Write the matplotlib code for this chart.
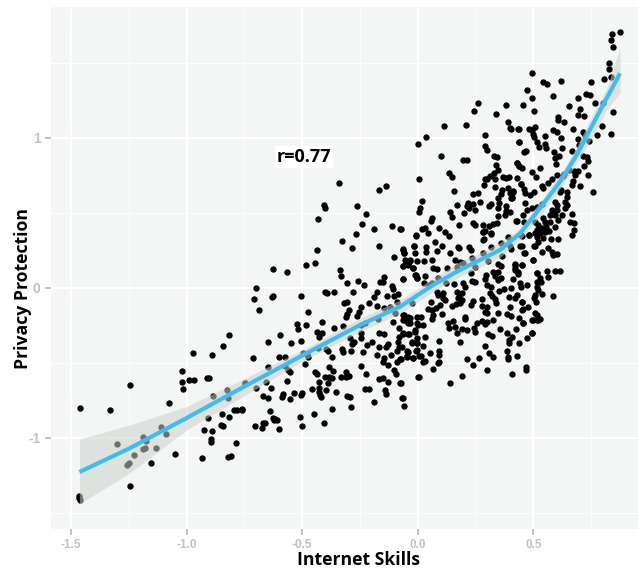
import numpy as np
import matplotlib
matplotlib.use("Agg")
import matplotlib.pyplot as plt

# grouped by part of the plot
skills_low = [-1.460,-1.331,-1.244,-1.244,-1.465,-1.463,-1.460,-1.299,-1.256,-1.250,-1.227,-1.190,-1.181,-1.187,-1.175,-1.155,-1.132,-1.109,-1.087,-1.048,
	-1.074,-1.019,-1.018,-1.014,-0.991,-0.967,-0.970,-0.891,-0.913,-0.904,-0.844,-0.816,-0.884,-0.823,-0.819,-0.747,-0.908,-0.848,-0.816,-0.795,
	-0.783,-0.761,-0.926,-0.890,-0.852,-0.841,-0.895,-0.895,-0.784,-0.931,-0.822,-0.806,-0.702,-0.671,-0.659,-0.674,-0.620,-0.610,-0.600,-0.501,-0.404]
protect_low = [-0.800,-0.813,-0.644,-1.318,-1.390,-1.400,-1.413,-1.042,-1.180,-1.166,-1.113,-1.075,-1.069,-0.991,-1.020,-1.169,-1.064,-0.927,-0.975,-1.109,
	-0.764,-0.553,-0.627,-0.676,-0.611,-0.615,-0.433,-0.444,-0.602,-0.600,-0.384,-0.311,-0.718,-0.682,-0.733,-0.636,-0.867,-0.840,-0.862,-0.816,
	-0.811,-0.811,-0.944,-0.956,-0.916,-0.920,-1.009,-1.024,-1.036,-1.133,-1.127,-1.120,-0.920,-0.900,-0.900,-0.933,-0.880,-0.882,-0.940,-0.920,-0.902]

skills_mid = [-0.342,-0.169,-0.138,-0.405,-0.400,-0.261,-0.222,-0.432,-0.240,-0.188,-0.112,-0.077,-0.267,-0.326,-0.285,-0.168,-0.437,-0.008,-0.017,-0.066,
	-0.061,-0.104,-0.054,-0.034,-0.066,-0.042,-0.019,-0.625,-0.564,-0.482,-0.444,-0.335,-0.331,-0.308,-0.259,-0.234,-0.146,-0.163,-0.152,-0.066,
	-0.011,-0.002,-0.110,-0.106,-0.700,-0.707,-0.630,-0.626,-0.685,-0.506,-0.403,-0.394,-0.362,-0.280,-0.175,-0.189,-0.135,-0.103,-0.084,-0.212,
	-0.308,-0.319,-0.247,-0.253,-0.261,-0.299,-0.305,-0.310,-0.175,-0.146,-0.120,-0.089,-0.025,-0.099,-0.473,-0.416,-0.524,-0.519,-0.482,-0.362,
	-0.325,-0.596,-0.434,-0.416,-0.429,-0.648,-0.550,-0.506,-0.228,-0.247,-0.247,-0.293,-0.276,-0.286,-0.247,-0.171,-0.109,-0.063,-0.041,-0.066,
	-0.048,-0.034,-0.083,-0.005,-0.012,-0.168,-0.146,-0.063,-0.080,-0.084,-0.037,-0.199,-0.221,-0.127,-0.139,-0.166,-0.080,-0.089,-0.025,-0.005,
	-0.574,-0.600,-0.714,-0.646,-0.495,-0.480,-0.473,-0.430,-0.397,-0.387,-0.371,-0.329,-0.322,-0.289,-0.238,-0.175,-0.146,-0.152,-0.117,-0.077,
	-0.091,-0.041,-0.048,-0.022,-0.005,0.007,-0.486,-0.560,-0.553,-0.444,-0.436,-0.385,-0.368,-0.403,-0.382,-0.371,-0.387,-0.429,-0.564,-0.333,
	-0.312,-0.310,-0.296,-0.247,-0.224,-0.129,-0.101,-0.094,-0.168,-0.152,-0.127,-0.077,0.001,-0.749,-0.700,-0.655,-0.633,-0.671,-0.649,-0.581,
	-0.587,-0.534,-0.551,-0.499,-0.503,-0.457,-0.429,-0.429,-0.423,-0.419,-0.395,-0.355,-0.306,-0.293,-0.228,-0.210,-0.143,-0.139,-0.191,-0.067,
	-0.060,-0.290,-0.370,-0.449,-0.508,-0.639,-0.627,-0.617,-0.761,-0.574]
protect_mid = [0.700,0.653,0.678,0.553,0.531,0.549,0.496,0.458,0.429,0.391,0.411,0.393,0.360,0.316,0.264,0.280,0.253,0.349,0.280,0.258,
	0.236,0.209,0.187,0.187,0.149,0.153,0.131,0.129,0.107,0.151,0.164,0.118,0.080,0.036,0.049,0.022,0.073,0.040,0.038,0.060,
	0.087,0.065,0.016,-0.009,0.002,-0.073,-0.060,-0.056,-0.147,-0.053,-0.029,-0.033,-0.027,-0.024,-0.029,-0.060,-0.051,-0.051,-0.040,-0.102,
	-0.091,-0.100,-0.129,-0.160,-0.184,-0.147,-0.173,-0.196,-0.118,-0.131,-0.124,-0.091,-0.098,-0.169,-0.160,-0.226,-0.240,-0.273,-0.247,-0.269,
	-0.251,-0.311,-0.296,-0.302,-0.324,-0.360,-0.367,-0.351,-0.235,-0.247,-0.302,-0.331,-0.358,-0.376,-0.331,-0.209,-0.229,-0.180,-0.191,-0.213,
	-0.218,-0.236,-0.269,-0.236,-0.280,-0.298,-0.304,-0.307,-0.324,-0.358,-0.307,-0.358,-0.380,-0.376,-0.396,-0.393,-0.396,-0.420,-0.360,-0.365,
	-0.460,-0.462,-0.469,-0.527,-0.435,-0.442,-0.462,-0.398,-0.409,-0.420,-0.458,-0.404,-0.424,-0.418,-0.424,-0.444,-0.467,-0.491,-0.444,-0.476,
	-0.494,-0.424,-0.458,-0.467,-0.413,-0.453,-0.507,-0.547,-0.562,-0.562,-0.576,-0.529,-0.556,-0.591,-0.591,-0.602,-0.631,-0.624,-0.618,-0.591,
	-0.558,-0.596,-0.589,-0.522,-0.576,-0.513,-0.547,-0.576,-0.604,-0.602,-0.627,-0.636,-0.593,-0.636,-0.664,-0.627,-0.667,-0.718,-0.731,-0.709,
	-0.724,-0.698,-0.738,-0.698,-0.716,-0.671,-0.669,-0.696,-0.713,-0.729,-0.680,-0.691,-0.720,-0.729,-0.675,-0.671,-0.680,-0.707,-0.762,-0.735,
	-0.784,-0.791,-0.806,-0.840,-0.860,-0.820,-0.864,-0.873,-0.809,-0.520]

skills_up = [0.262,0.241,0.381,0.337,0.389,0.399,0.435,0.112,0.210,0.035,-0.001,0.292,0.436,0.292,0.298,0.100,0.331,0.341,0.197,0.214,
	0.338,0.348,0.427,0.439,0.136,0.146,0.004,0.312,0.329,0.334,0.290,0.301,0.286,0.370,0.381,0.393,0.427,0.445,0.155,0.335,
	0.363,0.361,0.390,0.413,0.399,0.407,0.401,0.237,0.259,0.267,0.017,0.345,0.351,0.345,0.381,0.381,0.378,0.400,0.009,0.007,
	0.168,0.218,0.211,0.223,0.237,0.246,0.315,0.308,0.139,0.148,0.198,0.348,0.427,0.063,0.058,0.178,0.237,0.249,0.280,0.309,
	0.326,0.344,0.280,0.290,0.316,0.092,0.116,0.133,0.020,0.031,0.044,-0.006,-0.074,0.285]
protect_up = [1.233,1.180,1.222,1.158,1.104,1.064,1.062,1.080,1.089,1.004,0.960,1.020,0.971,0.947,0.920,0.882,0.878,0.876,0.851,0.856,
	0.818,0.787,0.833,0.813,0.767,0.738,0.729,0.747,0.764,0.729,0.724,0.727,0.689,0.742,0.736,0.738,0.733,0.693,0.649,0.671,
	0.653,0.627,0.664,0.642,0.631,0.604,0.598,0.624,0.636,0.571,0.582,0.600,0.564,0.531,0.549,0.513,0.489,0.504,0.531,0.504,
	0.551,0.569,0.547,0.531,0.558,0.518,0.560,0.547,0.504,0.471,0.498,0.478,0.447,0.464,0.444,0.418,0.436,0.420,0.418,0.413,
	0.424,0.436,0.376,0.380,0.364,0.400,0.376,0.349,0.396,0.402,0.367,0.351,0.393,0.327]

skills_centre = [0.076,0.106,-0.016,0.035,0.034,0.084,-0.063,-0.060,-0.011,0.139,0.175,0.180,0.221,0.228,0.283,0.315,0.283,0.061,0.027,-0.051,
	-0.034,-0.065,-0.042,-0.005,-0.019,0.067,0.082,0.128,0.161,0.182,0.168,0.197,0.233,0.283,0.315,0.358,0.391,0.348,0.360,0.246,
	0.303,0.362,0.399,0.442,0.463,0.448,0.482,0.507,0.517,0.420,0.452,0.420,0.435,0.499,0.514,-0.065,-0.008,-0.002,0.031,0.027,
	0.050,0.060,0.089,0.122,0.158,0.194,0.204,0.233,0.247,0.228,0.295,0.290,0.298,0.315,0.326,0.348,0.332,0.348,0.360,0.413,
	0.442,0.446,0.474,0.514,0.352,0.373,0.403,0.394,0.427,0.420,0.312,0.319,0.332,0.338,0.276,0.237,0.228,0.276,0.301,0.290,
	0.301,0.082,0.110,0.089,0.107,0.118,0.168,0.190,0.180,0.190,0.175,0.056,0.096,0.079,0.045,0.060,0.146,0.165,0.182,0.103,
	0.067,0.063,0.345,0.384,0.399,0.401,0.437,0.449,0.475,0.450,0.453,0.492,0.514,0.528,0.132,0.151,0.135,0.161,0.190,0.171,
	0.211,0.204,0.204,0.254,0.276,0.301,0.324,0.243,0.247,0.290,0.355,0.384,0.305,0.319,0.425,0.492,0.406,0.394,0.396,0.439,
	0.471,0.184,0.092,0.290,0.309,0.326,0.387,0.391,0.391,0.427,0.263,0.211,0.239,0.298,0.468,0.468,0.409,0.191,0.139,0.004,
	0.067,0.086,0.093,0.093,0.093,0.053,0.031,0.021,0.012,-0.022,-0.045,-0.074,-0.008,-0.048,-0.027,-0.005,-0.002,0.031,0.024,-0.041,
	-0.065,-0.012,0.002,0.021,0.012,-0.002,-0.034,-0.041,-0.055,-0.060,-0.070,-0.074,-0.065]
protect_centre = [0.309,0.282,0.280,0.271,0.240,0.249,0.253,0.236,0.236,0.233,0.271,0.264,0.276,0.253,0.320,0.360,0.373,0.187,0.178,0.182,
	0.182,0.147,0.158,0.178,0.131,0.131,0.129,0.136,0.187,0.176,0.138,0.169,0.198,0.236,0.271,0.298,0.342,0.160,0.147,0.142,
	0.182,0.213,0.282,0.282,0.236,0.353,0.353,0.282,0.342,0.160,0.156,0.131,0.109,0.187,0.098,0.058,0.087,0.064,0.080,0.036,
	0.020,0.031,0.064,0.036,0.027,0.031,0.009,0.049,0.042,0.098,0.087,0.058,0.020,0.009,0.109,0.109,0.080,0.053,0.069,0.058,
	0.036,0.009,0.018,0.009,-0.020,-0.008,-0.002,-0.058,-0.046,-0.069,-0.035,-0.051,-0.075,-0.098,-0.075,-0.084,-0.113,-0.120,-0.129,-0.158,
	-0.169,-0.024,-0.035,-0.047,-0.069,-0.080,-0.024,-0.035,-0.058,-0.080,-0.069,-0.091,-0.113,-0.135,-0.142,-0.147,-0.120,-0.107,-0.098,-0.173,
	-0.180,-0.209,-0.169,-0.173,-0.124,-0.186,-0.202,-0.093,-0.124,-0.147,-0.235,-0.213,-0.213,-0.209,-0.235,-0.218,-0.269,-0.258,-0.273,-0.302,
	-0.280,-0.191,-0.209,-0.231,-0.218,-0.224,-0.213,-0.269,-0.291,-0.242,-0.275,-0.298,-0.307,-0.318,-0.275,-0.302,-0.329,-0.347,-0.369,-0.369,
	-0.336,-0.362,-0.353,-0.384,-0.435,-0.458,-0.420,-0.458,-0.475,-0.453,-0.467,-0.471,-0.511,-0.549,-0.524,-0.547,-0.573,-0.584,-0.631,-0.591,
	-0.542,-0.498,-0.491,-0.447,-0.418,-0.431,-0.484,-0.491,-0.453,-0.467,-0.453,-0.475,-0.418,-0.418,-0.364,-0.336,-0.369,-0.329,-0.387,-0.307,
	-0.302,-0.291,-0.246,-0.246,-0.195,-0.195,-0.202,-0.235,-0.213,-0.180,-0.391,-0.635,-0.731]

skills_high = [0.874,0.838,0.835,0.842,0.825,0.828,0.837,0.806,0.747,0.494,0.540,0.559,0.619,0.474,0.583,0.495,0.727,0.744,0.694,0.766,
	0.799,0.455,0.654,0.502,0.701,0.844,0.693,0.718,0.608,0.608,0.633,0.795,0.670,0.583,0.600,0.505,0.479,0.494,0.497,0.502,
	0.436,0.403,0.551,0.619,0.437,0.514,0.525,0.550,0.553,0.622,0.665,0.589,0.459,0.468,0.612,0.593,0.596,0.716,0.723,0.694,
	0.742,0.773,0.835,0.697,0.713,0.730,0.737,0.718,0.427,0.439,0.449,0.528,0.492,0.511,0.737,0.694,0.680,0.603,0.634,0.655,
	0.675,0.579,0.564,0.672,0.665,0.703,0.535,0.543,0.448,0.459,0.463,0.485,0.502,0.756,0.618,0.644,0.646,0.636,0.644,0.636,
	0.413,0.406,0.593,0.600,0.579,0.603,0.571,0.593,0.622,0.608,0.667,0.658,0.675,0.675,0.667,0.465,0.471,0.492,0.514,0.535,
	0.456,0.459,0.425,0.543,0.550,0.572,0.521,0.535,0.554,0.514,0.569,0.593,0.482,0.507,0.528,0.550,0.543,0.521,0.502,0.574,
	0.608,0.449,0.459,0.564,0.579,0.586,0.600,0.537,0.499,0.420,0.449,0.420,0.435,0.514,0.557,0.593,0.615,0.564,0.528,0.403,
	0.626,0.615,0.507,0.452,0.586,0.536,0.521,0.531,0.514,0.507,0.504,0.510,0.452,0.456,0.507,0.514,0.497,0.518,0.456,0.494]
protect_high = [1.709,1.696,1.651,1.609,1.502,1.460,1.409,1.391,1.371,1.436,1.373,1.360,1.378,1.322,1.280,1.267,1.293,1.284,1.264,1.233,
	1.231,1.218,1.213,1.182,1.191,1.171,1.153,1.149,1.138,1.120,1.109,1.080,1.062,1.053,1.038,1.076,1.058,1.053,1.027,1.004,
	1.062,1.062,1.016,0.998,0.971,0.971,0.942,0.960,0.931,0.936,0.911,0.907,0.904,0.916,0.880,0.864,0.827,1.042,1.020,0.991,
	0.982,1.020,1.029,0.951,0.882,0.871,0.849,0.816,0.836,0.816,0.798,0.802,0.771,0.742,0.753,0.780,0.753,0.756,0.760,0.787,
	0.782,0.724,0.698,0.713,0.686,0.682,0.680,0.669,0.693,0.660,0.631,0.620,0.640,0.642,0.653,0.638,0.609,0.576,0.553,0.531,
	0.649,0.598,0.576,0.553,0.520,0.520,0.487,0.487,0.487,0.453,0.496,0.438,0.431,0.387,0.353,0.564,0.520,0.536,0.542,0.558,
	0.487,0.442,0.447,0.464,0.442,0.442,0.420,0.398,0.409,0.387,0.382,0.404,0.353,0.364,0.364,0.376,0.331,0.309,0.280,0.325,
	0.327,0.282,0.236,0.264,0.242,0.220,0.224,0.238,0.189,0.153,0.153,0.120,0.091,0.098,0.113,0.116,0.116,0.076,0.064,0.258,
	0.749,0.642,0.442,0.347,-0.053,-0.040,-0.013,0.042,0.042,-0.047,-0.069,-0.095,-0.095,-0.140,-0.164,-0.180,-0.213,-0.213,-0.235,-0.302]

# smoother and its band
smooth_x = [-1.463,-1.245,-1.000,-0.769,-0.496,-0.250,-0.077,0.066,0.182,0.269,0.355,0.442,0.528,0.615,0.687,0.759,0.816,0.874]
smooth_y = [-1.227,-1.068,-0.867,-0.673,-0.447,-0.247,-0.125,0.020,0.120,0.187,0.253,0.364,0.531,0.709,0.887,1.098,1.264,1.431]
band_lo = [-1.440,-1.233,-0.947,-0.735,-0.485,-0.292,-0.170,-0.025,0.076,0.138,0.204,0.320,0.476,0.664,0.831,1.020,1.187,1.300]
band_hi = [-1.007,-0.913,-0.790,-0.618,-0.410,-0.202,-0.080,0.065,0.176,0.236,0.302,0.398,0.576,0.754,0.942,1.165,1.330,1.600]

x_ticks = [-1.5, -1.0, -0.5, 0.0, 0.5]
y_ticks = [-1, 0, 1]
x_labels = ["-1.5", "-1.0", "-0.5", "0.0", "0.5"]
y_labels = ["-1", "0", "1"]
tick_grey = "#BDC5BF"

fig = plt.figure(figsize=(6.38, 5.69), dpi=100)
ax = fig.add_axes([51 / 638, (569 - 528.7) / 569, 587 / 638, 521.7 / 569])
ax.set_facecolor("#F4F6F6")
for s in ax.spines.values():
	s.set_visible(False)

ax.set_xlim(-1.5858, 0.9518)
ax.set_ylim(-1.6047, 1.8733)

# white grid, minor lines half way between the majors
ax.set_xticks(x_ticks)
ax.set_xticklabels(x_labels, fontsize=8.5, color=tick_grey, fontweight="bold", family="Liberation Sans")
ax.set_yticks(y_ticks)
ax.set_yticklabels(y_labels, fontsize=10, color=tick_grey, fontweight="bold", family="Liberation Sans")
ax.set_xticks([-1.25, -0.75, -0.25, 0.25, 0.75], minor=True)
ax.set_yticks([-1.5, -0.5, 0.5, 1.5], minor=True)
ax.tick_params(which="major", length=4.5, width=1.4, color=tick_grey, pad=3)
ax.tick_params(which="minor", length=0)
ax.grid(True, which="major", color="white", linewidth=1.5)
ax.grid(True, which="minor", color="white", linewidth=0.6)
ax.set_axisbelow(True)

xs = skills_low + skills_mid + skills_up + skills_centre + skills_high
ys = protect_low + protect_mid + protect_up + protect_centre + protect_high
ax.scatter(xs, ys, s=21, color="black", linewidths=0, zorder=3)

ax.fill_between(smooth_x, band_lo, band_hi, color="#CDD1CD", alpha=0.54, linewidth=0, zorder=4)
ax.plot(smooth_x, smooth_y, color="#3FBDF0", linewidth=3, zorder=5, solid_capstyle="butt", solid_joinstyle="round")

ax.text(-0.492, 0.873, "r=0.77", fontsize=13, fontweight="bold", family="Open Sans", ha="center", va="center", color="black",
	bbox=dict(facecolor="white", edgecolor="none", pad=1.5), zorder=6)

ax.set_xlabel("Internet Skills", fontsize=12.7, fontweight="bold", family="Open Sans", labelpad=0, x=0.523)
ax.set_ylabel("Privacy Protection", fontsize=12.7, fontweight="bold", family="Open Sans", labelpad=-3, y=0.461)

fig.savefig("out.png", dpi=100)
